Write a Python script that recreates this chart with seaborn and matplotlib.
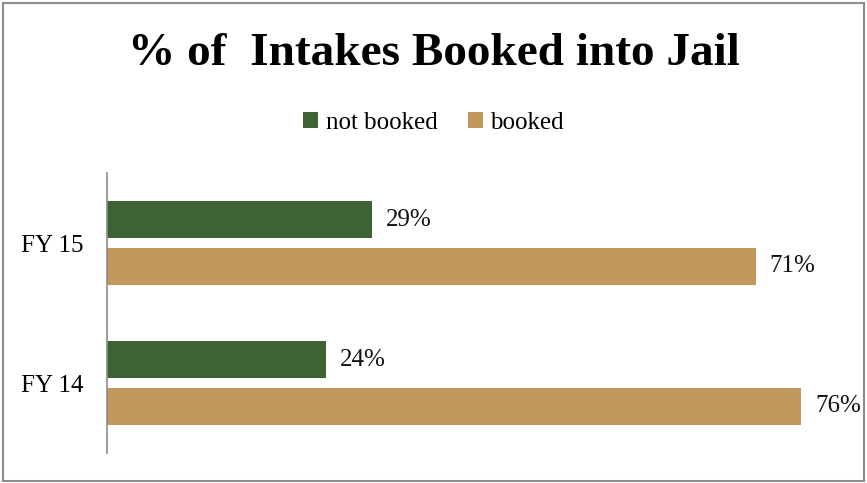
import seaborn as sns
import matplotlib.pyplot as plt
import pandas as pd
from matplotlib.patches import Rectangle

# data
years = ["FY 15", "FY 14"]
not_booked = [29, 24]
booked = [71, 76]
series_names = ["not booked", "booked"]
colors = ["#3D6334", "#C2975C"]

df = pd.DataFrame({
    "year": years * 2,
    "status": [series_names[0]] * 2 + [series_names[1]] * 2,
    "pct": not_booked + booked,
})

sns.set_style("white")
plt.rcParams["font.family"] = ["Liberation Serif", "DejaVu Serif"]
plt.rcParams["text.color"] = "black"
plt.rcParams["ytick.color"] = "black"

fig = plt.figure(figsize=(8.67, 4.83), dpi=100)
ax = fig.add_axes([107 / 867, 1 - 453 / 483, (838 - 107) / 867, (453 - 173) / 483])

sns.barplot(data=df, y="year", x="pct", hue="status", order=years,
            hue_order=series_names, palette=colors, orient="h",
            width=0.66, gap=0.2, linewidth=0, saturation=1, ax=ax)

for c in ax.containers:
    ax.bar_label(c, fmt="%d%%", padding=10, fontsize=18, color="#111111")

ax.set_xlim(0, 80)
ax.set_ylim(1.5, -0.5)
ax.set_xlabel("")
ax.set_ylabel("")
ax.set_xticks([])
ax.tick_params(axis="y", length=0, labelsize=18, pad=17)
for side in ["top", "right", "bottom"]:
    ax.spines[side].set_visible(False)
ax.spines["left"].set_color("#8c8c8c")
ax.spines["left"].set_linewidth(1.2)

ax.legend(loc="center", bbox_to_anchor=(0.5, 1 - 123 / 483),
          bbox_transform=fig.transFigure, ncol=2, frameon=False,
          fontsize=18, handlelength=0.6, handleheight=0.6,
          handletextpad=0.3, columnspacing=1.2)

fig.text(0.5, 1 - 54 / 483, "% of  Intakes Booked into Jail",
         ha="center", va="center", fontsize=34, fontweight="bold")

# grey frame round the chart area
fig.patches.append(Rectangle((3 / 867, 2 / 483), 861 / 867, 478 / 483,
                             transform=fig.transFigure, fill=False,
                             edgecolor="#8c8c8c", linewidth=1.5))

plt.savefig("out.png", dpi=100)
